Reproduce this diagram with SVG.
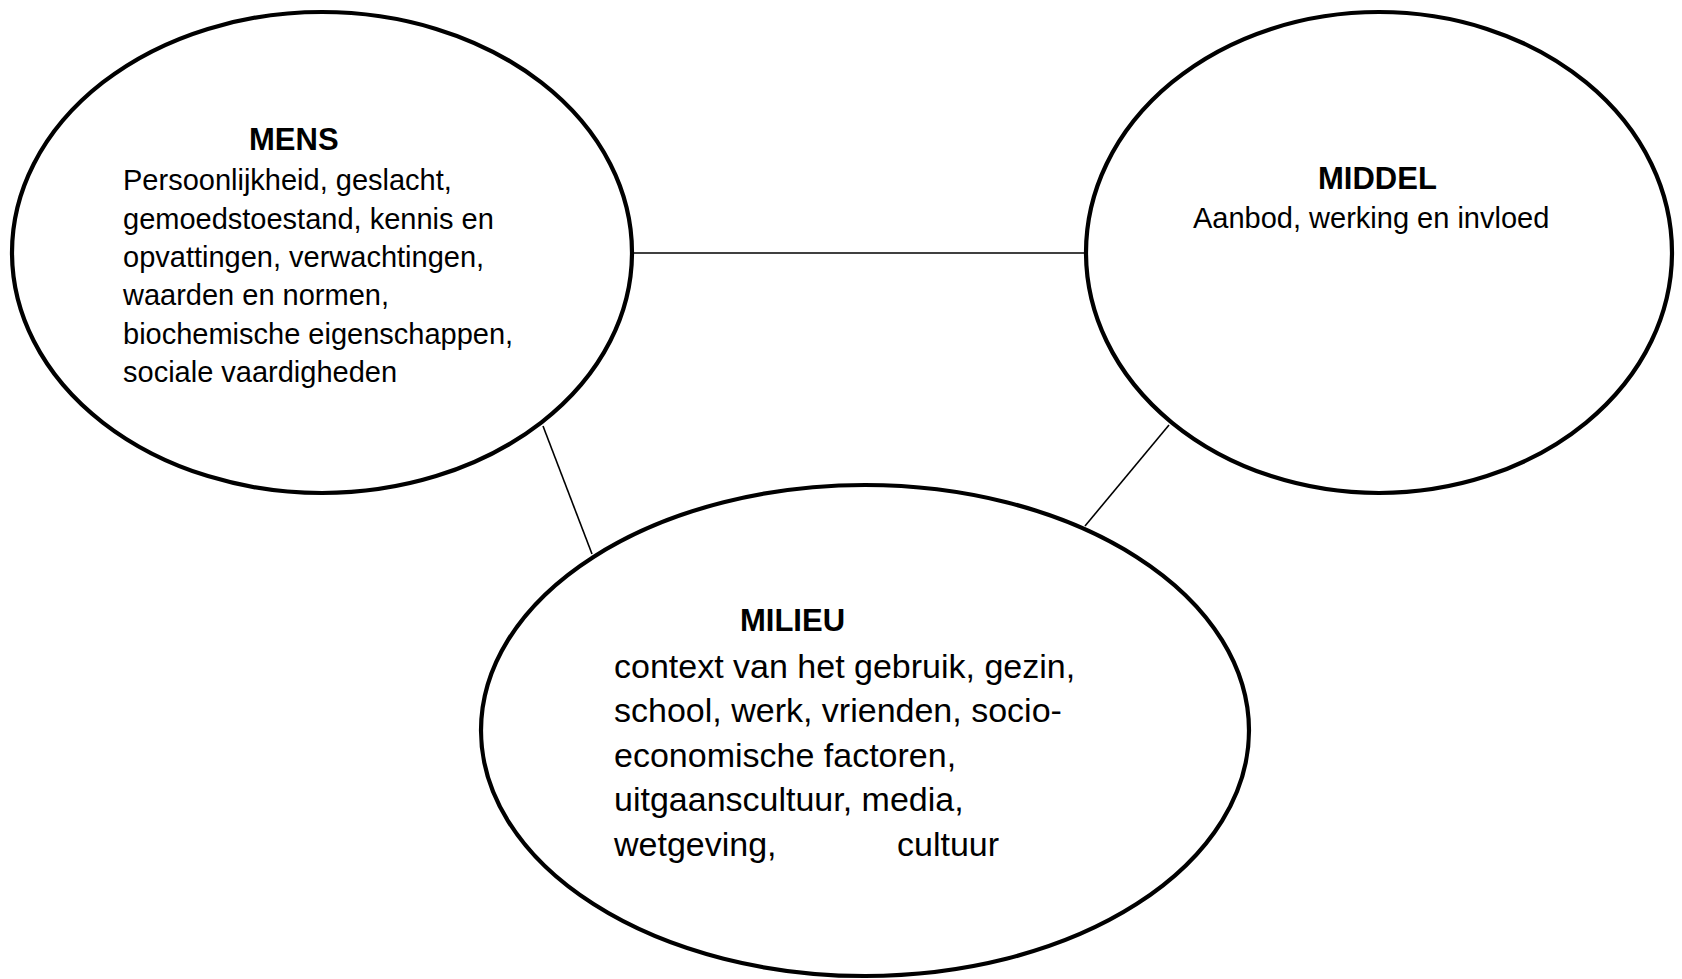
<svg xmlns="http://www.w3.org/2000/svg" width="1682" height="979" viewBox="0 0 1682 979">
<style>
.node{fill:#fff;stroke:#000;stroke-width:4.2}
.edge{stroke:#000;stroke-width:1.6;fill:none}
.title{font-family:"Liberation Sans",Arial,sans-serif;font-weight:bold;font-size:31px;fill:#000}
.body{font-family:"Liberation Sans",Arial,sans-serif;font-size:29px;fill:#000}
.body2{font-family:"Liberation Sans",Arial,sans-serif;font-size:34px;fill:#000}
</style>
<rect width="1682" height="979" fill="#fff"/>
<g id="connectors">
<line class="edge" x1="630" y1="253" x2="1088" y2="253"/>
<line class="edge" x1="543" y1="426" x2="592" y2="554"/>
<line class="edge" x1="1169" y1="425" x2="1085" y2="526"/>
</g>
<g id="mens">
<ellipse class="node" cx="322" cy="252.5" rx="310" ry="240.5"/>
<text class="title" x="249" y="150">MENS</text>
<text class="body" x="123">
<tspan x="123" y="190">Persoonlijkheid, geslacht,</tspan>
<tspan x="123" y="228.5">gemoedstoestand, kennis en</tspan>
<tspan x="123" y="267">opvattingen, verwachtingen,</tspan>
<tspan x="123" y="305">waarden en normen,</tspan>
<tspan x="123" y="344">biochemische eigenschappen,</tspan>
<tspan x="123" y="382">sociale vaardigheden</tspan>
</text>
</g>
<g id="middel">
<ellipse class="node" cx="1379" cy="252.5" rx="293" ry="240.5"/>
<text class="title" x="1318" y="189">MIDDEL</text>
<text class="body" x="1193" y="228">Aanbod, werking en invloed</text>
</g>
<g id="milieu">
<ellipse class="node" cx="865" cy="730.5" rx="384" ry="245.5"/>
<text class="title" x="740" y="631">MILIEU</text>
<text class="body2">
<tspan x="614" y="677.5">context van het gebruik, gezin,</tspan>
<tspan x="614" y="722">school, werk, vrienden, socio-</tspan>
<tspan x="614" y="766.5">economische factoren,</tspan>
<tspan x="614" y="811">uitgaanscultuur, media,</tspan>
<tspan x="614" y="856">wetgeving,</tspan><tspan x="897" y="856">cultuur</tspan>
</text>
</g>
</svg>
